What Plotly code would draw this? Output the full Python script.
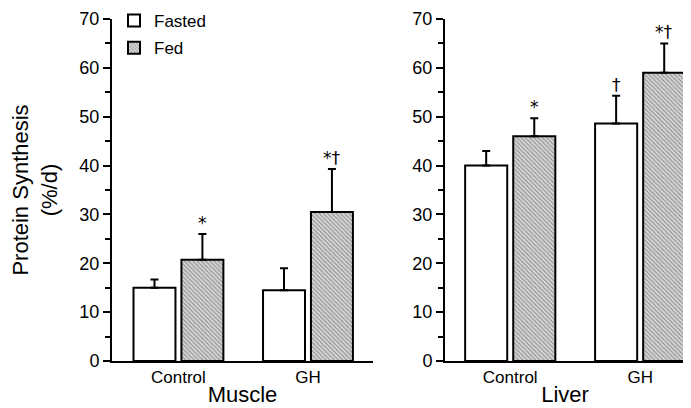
import plotly.graph_objects as go

groups = ["Control", "GH"]
muscle_fasted = [15.0, 14.5]
muscle_fasted_err = [1.7, 4.5]
muscle_fed = [20.7, 30.5]
muscle_fed_err = [5.3, 8.8]
liver_fasted = [40.0, 48.6]
liver_fasted_err = [3.0, 5.7]
liver_fed = [46.0, 59.0]
liver_fed_err = [3.7, 6.0]
muscle_fed_marks = ["*", "*†"]
muscle_fasted_marks = ["", ""]
liver_fed_marks = ["*", "*†"]
liver_fasted_marks = ["", "†"]
yticks = [0, 10, 20, 30, 40, 50, 60, 70]

FONT = "Liberation Sans"
MARKFONT = "DejaVu Sans"
W, H = 691, 408
OFF = 8  # page body margin offset
xpos = [0, 1]
off = 0.185
bw = 0.324

fig = go.Figure()

def add_panel(fasted, ferr, fed, fderr, xa, ya, show):
    fig.add_trace(go.Bar(
        x=[p - off for p in xpos], y=fasted, width=bw, name="Fasted",
        marker=dict(color="white", line=dict(color="black", width=2)),
        error_y=dict(type="data", symmetric=False, array=ferr, arrayminus=[0]*len(ferr),
                     color="black", thickness=2, width=4),
        xaxis=xa, yaxis=ya, showlegend=show, legendgroup="fa"))
    fig.add_trace(go.Bar(
        x=[p + off for p in xpos], y=fed, width=bw, name="Fed",
        marker=dict(color="#d0d0d0", line=dict(color="black", width=2),
                    pattern=dict(shape="\\", fgcolor="#444444", bgcolor="#d6d6d6",
                                 size=3, solidity=0.35)),
        error_y=dict(type="data", symmetric=False, array=fderr, arrayminus=[0]*len(fderr),
                     color="black", thickness=2, width=4),
        xaxis=xa, yaxis=ya, showlegend=show, legendgroup="fe"))

add_panel(muscle_fasted, muscle_fasted_err, muscle_fed, muscle_fed_err, "x", "y", True)
add_panel(liver_fasted, liver_fasted_err, liver_fed, liver_fed_err, "x2", "y2", False)

def add_marks(vals, errs, marks, shift, xref, yref):
    for p, v, e, m in zip(xpos, vals, errs, marks):
        if m:
            fig.add_annotation(x=p + shift, y=v + e, text=m, showarrow=False,
                               xref=xref, yref=yref, yanchor="bottom", yshift=-1,
                               font=dict(family=MARKFONT, size=17, color="black"))

add_marks(muscle_fed, muscle_fed_err, muscle_fed_marks, off, "x", "y")
add_marks(muscle_fasted, muscle_fasted_err, muscle_fasted_marks, -off, "x", "y")
add_marks(liver_fed, liver_fed_err, liver_fed_marks, off, "x2", "y2")
add_marks(liver_fasted, liver_fasted_err, liver_fasted_marks, -off, "x2", "y2")

ydom = [(H - (361 - OFF)) / H, (H - (19 - OFF)) / H]
yax = dict(range=[0, 70], tickvals=yticks, ticks="outside", ticklen=7, tickwidth=2,
           showline=True, linewidth=2, linecolor="black", showgrid=False, zeroline=False,
           tickfont=dict(family=FONT, size=18, color="black"), domain=ydom, automargin=False,
           minor=dict(ticks="outside", ticklen=5, tickwidth=2, dtick=5, tickcolor="black",
                      showgrid=False), tickcolor="black")
xax = dict(tickvals=xpos, ticktext=groups, showline=True, linewidth=2, linecolor="black",
           showgrid=False, zeroline=False, ticks="", automargin=False,
           tickfont=dict(family=FONT, size=17, color="black"))

fig.update_layout(
    width=W, height=H, margin=dict(l=0, r=0, t=0, b=0, autoexpand=False),
    paper_bgcolor="white", plot_bgcolor="white", barmode="overlay",
    font=dict(family=FONT, color="black"),
    xaxis=dict(**xax, domain=[(112 - OFF) / W, (373 - OFF) / W], range=[-0.513, 1.502],
               title=dict(text="Muscle", font=dict(family=FONT, size=22), standoff=0)),
    xaxis2=dict(**xax, domain=[(445 - OFF) / W, (685 - OFF) / W], range=[-0.502, 1.345],
                anchor="y2",
                title=dict(text="Liver", font=dict(family=FONT, size=22), standoff=0)),
    yaxis=dict(**yax, anchor="x",
               title=dict(text="Protein Synthesis<br>(%/d)", font=dict(family=FONT, size=22),
                          standoff=21)),
    yaxis2=dict(**yax, anchor="x2"),
    legend=dict(x=106 / W, y=1 + 5 / H, xanchor="left", yanchor="top",
                font=dict(family=FONT, size=17, color="black"), bgcolor="rgba(0,0,0,0)",
                itemwidth=30, tracegroupgap=2),
)

fig.write_html("out.html")
